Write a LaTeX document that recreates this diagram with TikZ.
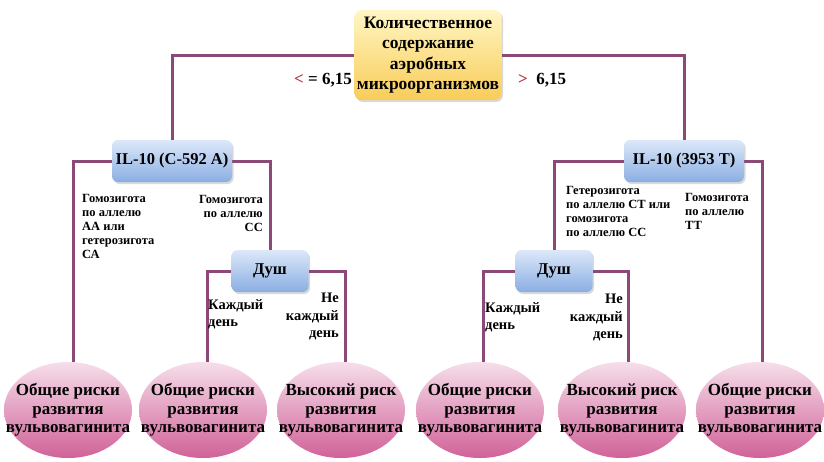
\documentclass[tikz,border=0pt]{standalone}
\usepackage{fontspec}
\setmainfont{Liberation Serif}
\usetikzlibrary{shadows,backgrounds,shapes.geometric}
\definecolor{conn}{RGB}{140,72,118}
\definecolor{signred}{RGB}{185,45,60}
\tikzset{
  conline/.style={draw=conn, line width=3pt},
  shadowed/.style={drop shadow={shadow xshift=1.5pt, shadow yshift=-2pt, opacity=0.25, fill=black!60}},
  topbox/.style={shadowed, rounded corners=7pt, top color={rgb,255:red,255;green,246;blue,196}, bottom color={rgb,255:red,249;green,204;blue,88}, minimum width=147pt, minimum height=90pt, inner sep=0pt, align=center, font=\fontsize{17.5}{20.5}\selectfont\bfseries},
  ilbox/.style={shadowed, rounded corners=6pt, top color={rgb,255:red,220;green,232;blue,249}, bottom color={rgb,255:red,138;green,174;blue,226}, minimum width=120pt, minimum height=42pt, inner sep=1pt, align=center, font=\fontsize{16.5}{19}\selectfont\bfseries},
  dushbox/.style={ilbox, minimum width=77pt},
  outcome/.style={ellipse, top color={rgb,255:red,246;green,222;blue,234}, bottom color={rgb,255:red,208;green,98;blue,152}, minimum width=128pt, minimum height=96pt, inner sep=0pt},
  outtext/.style={inner sep=0pt, align=center, font=\fontsize{17}{18.5}\selectfont\bfseries},
  cond/.style={align=left, inner sep=0pt, font=\fontsize{12.5}{14}\selectfont\bfseries},
  condr/.style={align=right, inner sep=0pt, font=\fontsize{12.5}{14}\selectfont\bfseries},
  dlab/.style={align=left, inner sep=0pt, font=\fontsize{14.5}{17}\selectfont\bfseries},
  dlabr/.style={align=right, inner sep=0pt, font=\fontsize{14.5}{17.5}\selectfont\bfseries},
  thr/.style={inner sep=0pt, font=\fontsize{17}{19}\selectfont\bfseries},
}
\begin{document}
\begin{tikzpicture}[x=1pt,y=-1pt]
\useasboundingbox (0,0) rectangle (824,461);

% nodes
\node[topbox] (top) at (428,55) {Количественное\\содержание\\аэробных\\микроорганизмов};
\node[ilbox] (il1) at (172,161) {IL-10 (C-592 A)};
\node[ilbox] (il2) at (684,161) {IL-10 (3953 T)};
\node[dushbox] (d1) at (270,271) {Душ};
\node[dushbox] (d2) at (554,271) {Душ};

\node[outcome] (e1) at (68,410) {};
\node[outcome] (e2) at (203,410) {};
\node[outcome] (e3) at (341,410) {};
\node[outcome] (e4) at (480,410) {};
\node[outcome] (e5) at (622,410) {};
\node[outcome] (e6) at (760,410) {};
\node[outtext] (t1) at (e1) {Общие риски\\развития\\вульвовагинита};
\node[outtext] (t2) at (e2) {Общие риски\\развития\\вульвовагинита};
\node[outtext] (t3) at (e3) {Высокий риск\\развития\\вульвовагинита};
\node[outtext] (t4) at (e4) {Общие риски\\развития\\вульвовагинита};
\node[outtext] (t5) at (e5) {Высокий риск\\развития\\вульвовагинита};
\node[outtext] (t6) at (e6) {Общие риски\\развития\\вульвовагинита};

% connectors
\begin{pgfonlayer}{background}
\draw[conline] (top.west) -| (il1.north);
\draw[conline] (top.east) -| (il2.north);
\draw[conline] (il1.west) -| ([xshift=5pt]e1.north);
\draw[conline] (il1.east) -| (d1.north);
\draw[conline] (il2.west) -| (d2.north);
\draw[conline] (il2.east) -| ([xshift=2pt]e6.north);
\draw[conline] (d1.west) -| ([xshift=4pt]e2.north);
\draw[conline] (d1.east) -| ([xshift=4pt]e3.north);
\draw[conline] (d2.west) -| ([xshift=3pt]e4.north);
\draw[conline] (d2.east) -| ([xshift=6pt]e5.north);
\end{pgfonlayer}

% labels
\node[thr, anchor=east] (lle) at (352,80) {\textcolor{signred}{<} = 6,15};
\node[thr, anchor=west] (lgt) at (518,80) {\textcolor{signred}{>}\enspace 6,15};

\node[cond, anchor=north west] (c1) at (82,194) {Гомозигота\\по аллелю\\АА или\\гетерозигота\\СА};
\node[condr, anchor=north east] (c2) at (263,195) {Гомозигота\\по аллелю\\СС};
\node[cond, anchor=north west] (c3) at (566,186) {Гетерозигота\\по аллелю СТ или\\гомозигота\\по аллелю СС};
\node[cond, anchor=north west] (c4) at (685,193) {Гомозигота\\по аллелю\\ТТ};

\node[dlab, anchor=north west] (k1) at (208,299) {Каждый\\день};
\node[dlabr, anchor=north east] (n1) at (339,293) {Не\\каждый\\день};
\node[dlab, anchor=north west] (k2) at (485,302) {Каждый\\день};
\node[dlabr, anchor=north east] (n2) at (623,294) {Не\\каждый\\день};
\end{tikzpicture}
\end{document}
